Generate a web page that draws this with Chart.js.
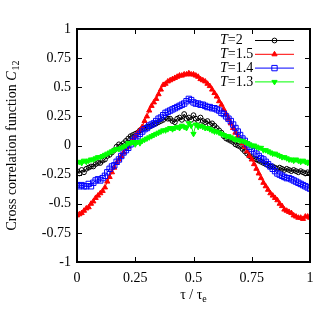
<!DOCTYPE html>
<html>
<head>
<meta charset="utf-8">
<script src="https://cdn.jsdelivr.net/npm/chart.js@4.4.1/dist/chart.umd.min.js"></script>
<style>
  html, body { margin: 0; padding: 0; background: #fff; }
  #wrap { width: 334px; height: 334px; }
</style>
</head>
<body>
<div id="wrap"><canvas id="corrChart" width="334" height="334"></canvas></div>
<script>
// tau / tau_e
var tau = [0, 0.01, 0.02, 0.03, 0.04, 0.05, 0.06, 0.07, 0.08, 0.09,
  0.1, 0.11, 0.12, 0.13, 0.14, 0.15, 0.16, 0.17, 0.18, 0.19,
  0.2, 0.21, 0.22, 0.23, 0.24, 0.25, 0.26, 0.27, 0.28, 0.29,
  0.3, 0.31, 0.32, 0.33, 0.34, 0.35, 0.36, 0.37, 0.38, 0.39,
  0.4, 0.41, 0.42, 0.43, 0.44, 0.45, 0.46, 0.47, 0.48, 0.49,
  0.5, 0.51, 0.52, 0.53, 0.54, 0.55, 0.56, 0.57, 0.58, 0.59,
  0.6, 0.61, 0.62, 0.63, 0.64, 0.65, 0.66, 0.67, 0.68, 0.69,
  0.7, 0.71, 0.72, 0.73, 0.74, 0.75, 0.76, 0.77, 0.78, 0.79,
  0.8, 0.81, 0.82, 0.83, 0.84, 0.85, 0.86, 0.87, 0.88, 0.89,
  0.9, 0.91, 0.92, 0.93, 0.94, 0.95, 0.96, 0.97, 0.98, 0.99, 1];

var c12T2 = [-0.22, -0.24, -0.21, -0.23, -0.20, -0.19, -0.18, -0.18, -0.16, -0.15,
  -0.15, -0.13, -0.12, -0.09, -0.08, -0.06, -0.04, -0.01, 0.01, 0.00,
  0.02, 0.04, 0.06, 0.08, 0.09, 0.10, 0.11, 0.13, 0.14, 0.15,
  0.16, 0.16, 0.17, 0.18, 0.19, 0.20, 0.21, 0.22, 0.24, 0.23,
  0.23, 0.21, 0.20, 0.23, 0.24, 0.22, 0.27, 0.23, 0.24, 0.22,
  0.26, 0.23, 0.21, 0.24, 0.21, 0.20, 0.21, 0.18, 0.19, 0.17,
  0.15, 0.13, 0.11, 0.08, 0.06, 0.05, 0.04, 0.03, 0.01, 0.00,
  -0.01, -0.03, -0.05, -0.07, -0.09, -0.10, -0.11, -0.12, -0.13, -0.14,
  -0.15, -0.16, -0.17, -0.18, -0.18, -0.19, -0.20, -0.19, -0.20, -0.21,
  -0.20, -0.21, -0.22, -0.21, -0.22, -0.23, -0.22, -0.23, -0.24, -0.23, -0.24];

var c12T15 = [-0.60, -0.59, -0.58, -0.56, -0.54, -0.53, -0.50, -0.48, -0.45, -0.43,
  -0.41, -0.39, -0.36, -0.31, -0.27, -0.23, -0.19, -0.15, -0.12, -0.09,
  -0.06, -0.03, -0.01, 0.02, 0.05, 0.08, 0.11, 0.13, 0.16, 0.21,
  0.25, 0.30, 0.34, 0.37, 0.40, 0.44, 0.48, 0.52, 0.53, 0.55,
  0.56, 0.57, 0.58, 0.59, 0.60, 0.60, 0.61, 0.61, 0.62, 0.61,
  0.61, 0.60, 0.59, 0.57, 0.56, 0.55, 0.53, 0.51, 0.48, 0.45,
  0.42, 0.38, 0.35, 0.31, 0.27, 0.23, 0.19, 0.15, 0.11, 0.08,
  0.05, 0.02, -0.01, -0.05, -0.09, -0.12, -0.16, -0.20, -0.24, -0.28,
  -0.32, -0.35, -0.38, -0.41, -0.43, -0.45, -0.47, -0.50, -0.52, -0.55,
  -0.56, -0.57, -0.58, -0.60, -0.61, -0.62, -0.62, -0.63, -0.61, -0.61, -0.62];

var c12T14 = [-0.34, -0.35, -0.34, -0.35, -0.35, -0.33, -0.35, -0.32, -0.30, -0.29,
  -0.30, -0.28, -0.26, -0.23, -0.20, -0.18, -0.17, -0.14, -0.12, -0.09,
  -0.06, -0.04, -0.02, 0.01, 0.04, 0.06, 0.08, 0.10, 0.12, 0.14,
  0.15, 0.17, 0.18, 0.19, 0.21, 0.23, 0.24, 0.26, 0.28, 0.29,
  0.30, 0.31, 0.32, 0.33, 0.34, 0.35, 0.36, 0.38, 0.40, 0.39,
  0.37, 0.36, 0.36, 0.35, 0.35, 0.34, 0.33, 0.33, 0.32, 0.32,
  0.31, 0.30, 0.28, 0.27, 0.25, 0.23, 0.21, 0.18, 0.15, 0.12,
  0.09, 0.06, 0.04, 0.01, -0.01, -0.03, -0.05, -0.07, -0.09, -0.11,
  -0.12, -0.14, -0.16, -0.18, -0.20, -0.22, -0.24, -0.25, -0.26, -0.27,
  -0.28, -0.28, -0.29, -0.30, -0.31, -0.32, -0.33, -0.34, -0.35, -0.36, -0.37];

var c12T13 = [-0.15, -0.14, -0.15, -0.13, -0.14, -0.13, -0.12, -0.12, -0.11, -0.10,
  -0.10, -0.09, -0.08, -0.07, -0.06, -0.05, -0.04, -0.03, -0.03, -0.02,
  -0.01, 0.00, 0.02, 0.02, 0.03, 0.01, 0.03, 0.02, 0.04, 0.05,
  0.06, 0.07, 0.08, 0.09, 0.10, 0.11, 0.12, 0.13, 0.13, 0.14,
  0.15, 0.14, 0.15, 0.16, 0.15, 0.17, 0.16, 0.15, 0.19, 0.17,
  0.10, 0.18, 0.16, 0.17, 0.16, 0.15, 0.15, 0.14, 0.13, 0.12,
  0.12, 0.11, 0.10, 0.09, 0.08, 0.08, 0.07, 0.06, 0.05, 0.05,
  0.04, 0.04, 0.03, 0.02, 0.01, 0.00, 0.00, -0.01, -0.02, -0.02,
  -0.04, -0.04, -0.05, -0.06, -0.07, -0.07, -0.08, -0.09, -0.10, -0.10,
  -0.11, -0.12, -0.12, -0.13, -0.12, -0.13, -0.14, -0.13, -0.14, -0.15, -0.14];

var seriesLabels = ['T=2', 'T=1.5', 'T=1.4', 'T=1.3'];
var xTicks = [0, 0.25, 0.5, 0.75, 1];

var FONT = "'Liberation Serif', 'Times New Roman', serif";

function pts(ys) {
  return tau.map(function (t, i) { return { x: t, y: ys[i] }; });
}

function series(label, ys, color, style, r, rot, filled, order) {
  return {
    label: label,
    data: pts(ys),
    borderColor: color,
    backgroundColor: filled ? color : 'rgba(0,0,0,0)',
    pointBorderColor: color,
    pointBackgroundColor: filled ? color : 'rgba(0,0,0,0)',
    pointStyle: style,
    pointRadius: r,
    pointRotation: rot,
    pointBorderWidth: 1,
    borderWidth: 1,
    showLine: true,
    tension: 0,
    order: order
  };
}

// frame, inward ticks, legend and axis titles
var decor = {
  id: 'decor',
  afterDatasetsDraw: function (chart) {
    var ctx = chart.ctx, a = chart.chartArea;
    var xs = chart.scales.x, ys = chart.scales.y;
    ctx.save();
    ctx.strokeStyle = '#000';
    ctx.lineWidth = 1;
    ctx.beginPath();
    xs.ticks.forEach(function (t) {
      var px = Math.round(xs.getPixelForValue(t.value)) + 0.5;
      ctx.moveTo(px, a.bottom); ctx.lineTo(px, a.bottom - 5);
      ctx.moveTo(px, a.top); ctx.lineTo(px, a.top + 5);
    });
    ys.ticks.forEach(function (t) {
      var py = Math.round(ys.getPixelForValue(t.value)) + 0.5;
      ctx.moveTo(a.left, py); ctx.lineTo(a.left + 5, py);
      ctx.moveTo(a.right, py); ctx.lineTo(a.right - 5, py);
    });
    ctx.stroke();
    ctx.lineWidth = 2;
    ctx.strokeRect(a.left, a.top, a.right - a.left, a.bottom - a.top);

    // legend
    chart.data.datasets.forEach(function (ds, i) {
      var y = 40.5 + i * 13.8;
      ctx.fillStyle = '#000';
      ctx.textBaseline = 'middle';
      ctx.textAlign = 'left';
      ctx.font = 'italic 14px ' + FONT;
      ctx.fillText('T', 220, y);
      var w = ctx.measureText('T').width;
      ctx.font = '14px ' + FONT;
      ctx.fillText(ds.label.slice(1), 220 + w, y);
      ctx.strokeStyle = ds.borderColor;
      ctx.lineWidth = 1;
      ctx.beginPath();
      ctx.moveTo(255, y); ctx.lineTo(294, y);
      ctx.stroke();
      ctx.fillStyle = ds.pointBackgroundColor;
      Chart.helpers.drawPoint(ctx, {
        pointStyle: ds.pointStyle, radius: ds.pointRadius,
        rotation: ds.pointRotation, borderWidth: 1
      }, 274.5, y);
    });

    // y title
    ctx.fillStyle = '#000';
    ctx.textBaseline = 'alphabetic';
    ctx.textAlign = 'left';
    var p1 = 'Cross correlation function ';
    ctx.font = '14px ' + FONT;
    var w1 = ctx.measureText(p1).width;
    ctx.font = 'italic 14px ' + FONT;
    var w2 = ctx.measureText('C').width;
    ctx.font = '10px ' + FONT;
    var w3 = ctx.measureText('12').width;
    var total = w1 + w2 + w3 + 1;
    ctx.translate(16, (a.top + a.bottom) / 2);
    ctx.rotate(-Math.PI / 2);
    var sx = -total / 2;
    ctx.font = '14px ' + FONT;
    ctx.fillText(p1, sx, 0);
    ctx.font = 'italic 14px ' + FONT;
    ctx.fillText('C', sx + w1, 0);
    ctx.font = '10px ' + FONT;
    ctx.fillText('12', sx + w1 + w2 + 1, 3);
    ctx.setTransform(1, 0, 0, 1, 0, 0);

    // x title
    ctx.font = '14px ' + FONT;
    var t1 = '\u03c4 / \u03c4';
    var tw = ctx.measureText(t1).width;
    ctx.font = '10px ' + FONT;
    var ew = ctx.measureText('e').width;
    var cx = (a.left + a.right) / 2 - (tw + ew) / 2;
    ctx.font = '14px ' + FONT;
    ctx.fillText(t1, cx, 299);
    ctx.font = '10px ' + FONT;
    ctx.fillText('e', cx + tw, 302);
    ctx.restore();
  }
};

var ctx = document.getElementById('corrChart');
var myChart = new Chart(ctx, {
  type: 'scatter',
  data: {
    datasets: [
      series(seriesLabels[0], c12T2, '#000000', 'circle', 2.4, 0, false, 4),
      series(seriesLabels[1], c12T15, '#ff0000', 'triangle', 3, 0, true, 3),
      series(seriesLabels[2], c12T14, '#0000ff', 'rect', 3.8, 0, false, 2),
      series(seriesLabels[3], c12T13, '#00ff00', 'triangle', 3, 180, true, 1)
    ]
  },
  options: {
    responsive: false,
    animation: false,
    layout: { padding: { top: 29, right: 24, left: 0, bottom: 0 } },
    plugins: { legend: { display: false }, tooltip: { enabled: false } },
    scales: {
      x: {
        type: 'linear', min: 0, max: 1,
        grid: { display: false, drawTicks: false },
        border: { display: false },
        afterFit: function (s) { s.height = 72; },
        afterBuildTicks: function (s) { s.ticks = xTicks.map(function (v) { return { value: v }; }); },
        ticks: {
          padding: 8, color: '#000', maxRotation: 0,
          font: { family: FONT, size: 14 },
          callback: function (v) { return String(v); }
        }
      },
      y: {
        type: 'linear', min: -1, max: 1,
        grid: { display: false, drawTicks: false },
        border: { display: false },
        afterFit: function (s) { s.width = 77; },
        ticks: {
          stepSize: 0.25, padding: 6, color: '#000',
          font: { family: FONT, size: 14 },
          callback: function (v) { return String(v); }
        }
      }
    }
  },
  plugins: [decor]
});
</script>
</body>
</html>
